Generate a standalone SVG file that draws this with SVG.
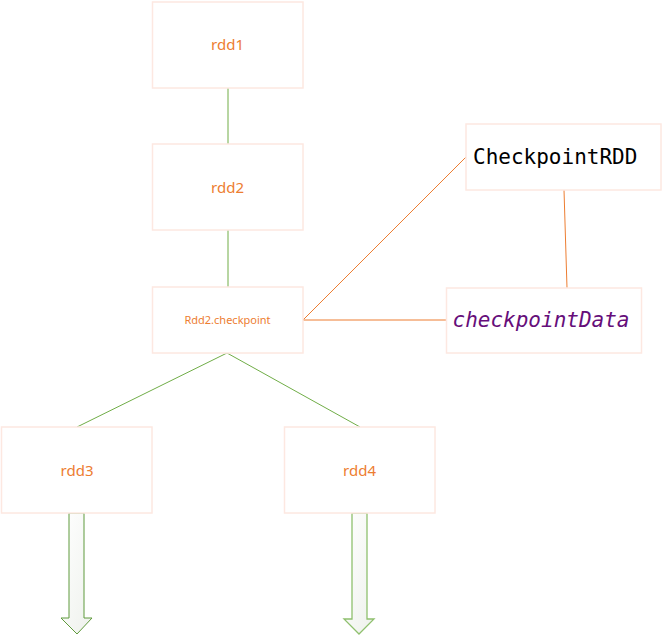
<svg xmlns="http://www.w3.org/2000/svg" width="663" height="636" viewBox="0 0 663 636">
<defs>
<style>
.box{fill:#ffffff;stroke:#fde8e1;stroke-width:1.5}
.lbl{font-family:"Noto Sans","Open Sans","Liberation Sans",sans-serif;fill:#ed7d31;text-anchor:middle}
.g{stroke:#70ad47;stroke-width:1;fill:none}
.o{stroke:#ed7d31;stroke-width:1;fill:none}
.mono{font-family:"DejaVu Sans Mono","Liberation Mono",monospace;font-size:21px}
</style>
<linearGradient id="ag" x1="0" y1="0" x2="1" y2="1">
<stop offset="0" stop-color="#ffffff"/>
<stop offset="1" stop-color="#eef1ec"/>
</linearGradient>
</defs>
<rect width="663" height="636" fill="#ffffff"/>
<g id="connectors">
<line class="g" x1="228" y1="88" x2="228" y2="144"/>
<line class="g" x1="228" y1="230" x2="228" y2="287"/>
<line class="g" x1="227" y1="353" x2="77" y2="427"/>
<line class="g" x1="227" y1="353" x2="360" y2="427"/>
<line class="o" stroke="#f4a470" x1="303" y1="320" x2="466" y2="157"/>
<line class="o" x1="303" y1="320" x2="446" y2="320"/>
<line class="o" x1="564" y1="190" x2="567" y2="288"/>
<path id="arrow-rdd3" d="M69,513 H84 V618 H92 L77,634 L61,618 H69 Z" fill="url(#ag)" stroke="#5f9a3c" stroke-width="1"/>
<path id="arrow-rdd4" d="M352,513 H367 V619 H374 L359,634 L344,619 H352 Z" fill="url(#ag)" stroke="#8fc06e" stroke-width="1.3"/>
</g>
<g id="rdd1">
<rect class="box" x="152.5" y="2" width="150.5" height="86"/>
<text class="lbl" x="227.5" y="50" font-size="15">rdd1</text>
</g>
<g id="rdd2">
<rect class="box" x="152.5" y="144" width="150.5" height="86"/>
<text class="lbl" x="227.5" y="193" font-size="15">rdd2</text>
</g>
<g id="rdd2checkpoint">
<rect class="box" x="152.5" y="287" width="150.5" height="66"/>
<text class="lbl" x="227.5" y="324" font-size="11">Rdd2.checkpoint</text>
</g>
<g id="checkpointRDD">
<rect class="box" x="466" y="124" width="195" height="66"/>
<text class="mono" x="473" y="164" fill="#000000">CheckpointRDD</text>
</g>
<g id="checkpointData">
<rect class="box" x="446.5" y="288" width="195" height="65"/>
<text class="mono" x="452.5" y="327" fill="#660e7a" font-style="italic">checkpointData</text>
</g>
<g id="rdd3">
<rect class="box" x="1.5" y="427" width="150.5" height="86"/>
<text class="lbl" x="77" y="476" font-size="15">rdd3</text>
</g>
<g id="rdd4">
<rect class="box" x="284.5" y="427" width="150.5" height="86"/>
<text class="lbl" x="359.5" y="476" font-size="15">rdd4</text>
</g>
</svg>
